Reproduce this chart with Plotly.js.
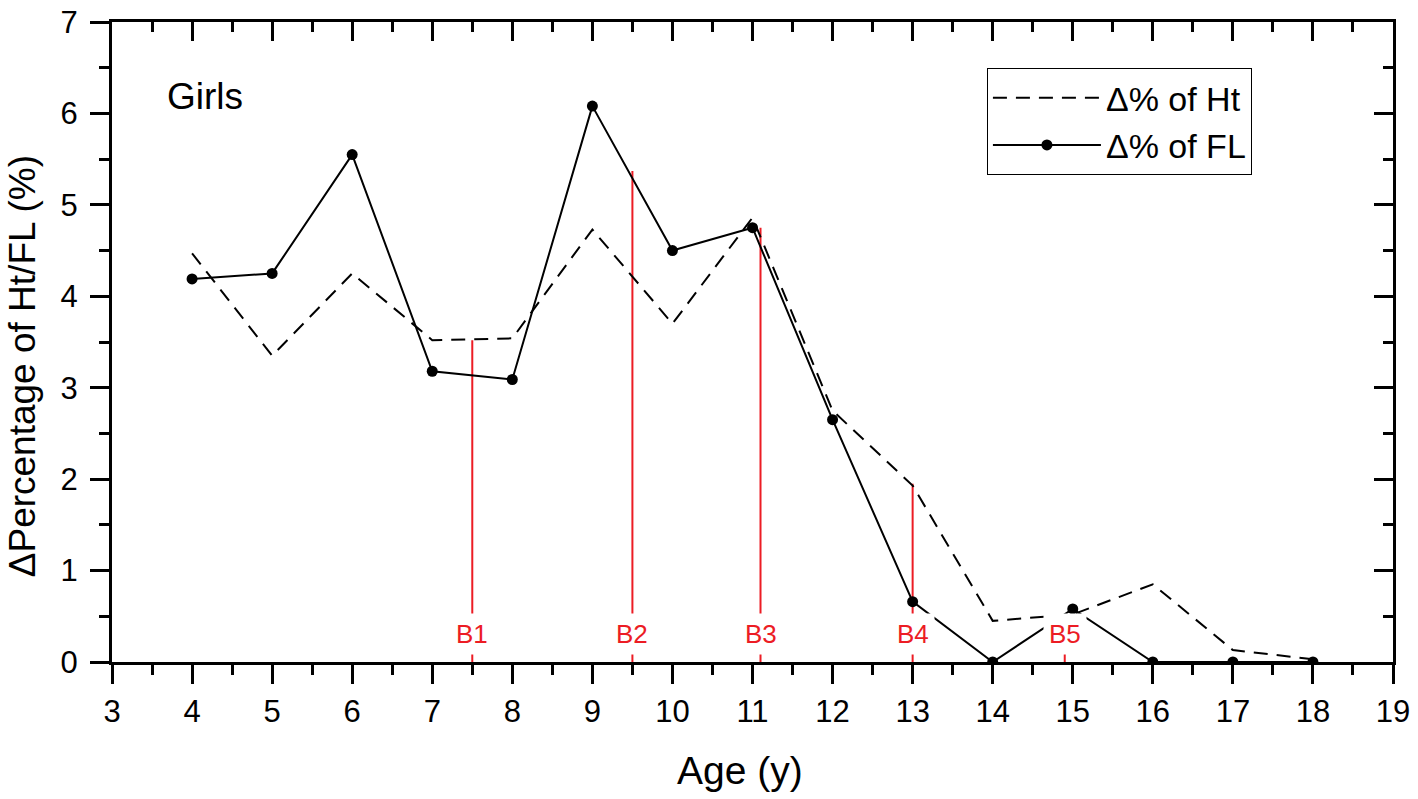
<!DOCTYPE html>
<html>
<head>
<meta charset="utf-8">
<script src="https://cdn.plot.ly/plotly-3.0.1.min.js"></script>
<style>
  html, body { margin: 0; padding: 0; background: #fff; }
  #chart { width: 1418px; height: 799px; }
</style>
</head>
<body>
<div id="chart"></div>
<script>
  // ages (years) and the two percentage series
  const ages = [4, 5, 6, 7, 8, 9, 10, 11, 12, 13, 14, 15, 16, 17, 18];
  const htPct = [4.47, 3.35, 4.25, 3.52, 3.54, 4.73, 3.70, 4.86, 2.75, 1.93, 0.45, 0.52, 0.85, 0.13, 0.03];
  const flPct = [4.19, 4.25, 5.55, 3.18, 3.09, 6.08, 4.50, 4.75, 2.65, 0.66, 0, 0.58, 0, 0, 0];

  // breast stage markers (red vertical lines)
  const stageNames = ['B1', 'B2', 'B3', 'B4', 'B5'];
  const stageAges = [7.5, 9.5, 11.1, 13, 14.9];
  const stageTops = [3.52, 5.37, 4.75, 1.95, 0.3];

  const font = 'Liberation Sans, Arial, sans-serif';
  const red = '#ec1c24';
  const labelY = 0.31;

  const stageX = [];
  const stageY = [];
  stageAges.forEach((age, i) => {
    stageX.push(age, age, null);
    stageY.push(0, stageTops[i], null);
  });

  const traces = [
    {
      x: stageX, y: stageY, type: 'scatter', mode: 'lines',
      line: { color: red, width: 2 }, showlegend: false, hoverinfo: 'skip'
    },
    {
      name: 'Δ% of Ht', x: ages, y: htPct, type: 'scatter', mode: 'lines',
      line: { color: '#000', width: 2, dash: '14px,9px' }
    },
    {
      name: 'Δ% of FL', x: ages, y: flPct, type: 'scatter', mode: 'lines+markers',
      line: { color: '#000', width: 2 }, marker: { color: '#000', size: 11 }
    },
    {
      // carries the mirrored top/right axes
      x: ages, y: flPct, xaxis: 'x2', yaxis: 'y2', type: 'scatter', mode: 'markers',
      marker: { opacity: 0 }, showlegend: false, hoverinfo: 'skip'
    }
  ];

  const annotations = stageNames.map((name, i) => ({
    x: stageAges[i], y: labelY, xref: 'x', yref: 'y', text: name, showarrow: false,
    font: { family: font, size: 26, color: red }, bgcolor: '#fff', borderpad: 5
  }));
  annotations.push({
    x: 3.66, y: 6.18, xref: 'x', yref: 'y', text: 'Girls', showarrow: false,
    xanchor: 'left', font: { family: font, size: 37, color: '#000' }
  });
  // axis titles placed as annotations to match the original offsets
  annotations.push({
    x: -0.0703, y: 0.462, xref: 'paper', yref: 'paper', text: 'ΔPercentage of Ht/FL (%)',
    textangle: -90, showarrow: false, xanchor: 'center', yanchor: 'middle',
    font: { family: font, size: 37, color: '#000' }
  });
  annotations.push({
    x: 0.49, y: -0.1695, xref: 'paper', yref: 'paper', text: 'Age (y)',
    showarrow: false, xanchor: 'center', yanchor: 'middle',
    font: { family: font, size: 39, color: '#000' }
  });

  const axisBase = {
    showline: true, linecolor: '#000', linewidth: 3, showgrid: false, zeroline: false,
    tickcolor: '#000', tickwidth: 3, ticklen: 19,
    tickfont: { family: font, size: 31, color: '#000' }
  };

  const layout = {
    width: 1418, height: 799,
    margin: { l: 112, r: 25, t: 22, b: 137 },
    paper_bgcolor: '#fff', plot_bgcolor: '#fff',
    font: { family: font, color: '#000' },
    showlegend: true,
    legend: {
      x: 0.683, y: 0.928, xanchor: 'left', yanchor: 'top',
      bordercolor: '#000', borderwidth: 1, bgcolor: '#fff',
      font: { family: font, size: 34, color: '#000' },
      itemwidth: 108, tracegroupgap: 0
    },
    xaxis: {
      ...axisBase, range: [3, 19], tickmode: 'linear', tick0: 3, dtick: 1, ticks: 'outside',
      ticklabelstandoff: 1,
      minor: { dtick: 0.5, ticks: 'outside', ticklen: 10, tickwidth: 3, tickcolor: '#000', showgrid: false }
    },
    yaxis: {
      ...axisBase, range: [0, 7], tickmode: 'linear', tick0: 0, dtick: 1, ticks: 'outside',
      ticklabelstandoff: 6,
      minor: { dtick: 0.5, ticks: 'outside', ticklen: 10, tickwidth: 3, tickcolor: '#000', showgrid: false }
    },
    xaxis2: {
      ...axisBase, overlaying: 'x', side: 'top', anchor: 'y2', range: [3, 19], tickmode: 'linear', tick0: 3, dtick: 1,
      ticks: 'inside', showticklabels: false,
      minor: { dtick: 0.5, ticks: 'inside', ticklen: 10, tickwidth: 3, tickcolor: '#000', showgrid: false }
    },
    yaxis2: {
      ...axisBase, overlaying: 'y', side: 'right', anchor: 'x2', range: [0, 7], tickmode: 'linear', tick0: 0, dtick: 1,
      ticks: 'inside', showticklabels: false,
      minor: { dtick: 0.5, ticks: 'inside', ticklen: 10, tickwidth: 3, tickcolor: '#000', showgrid: false }
    },
    annotations
  };

  Plotly.newPlot('chart', traces, layout, { displayModeBar: false, responsive: false });
</script>
</body>
</html>
